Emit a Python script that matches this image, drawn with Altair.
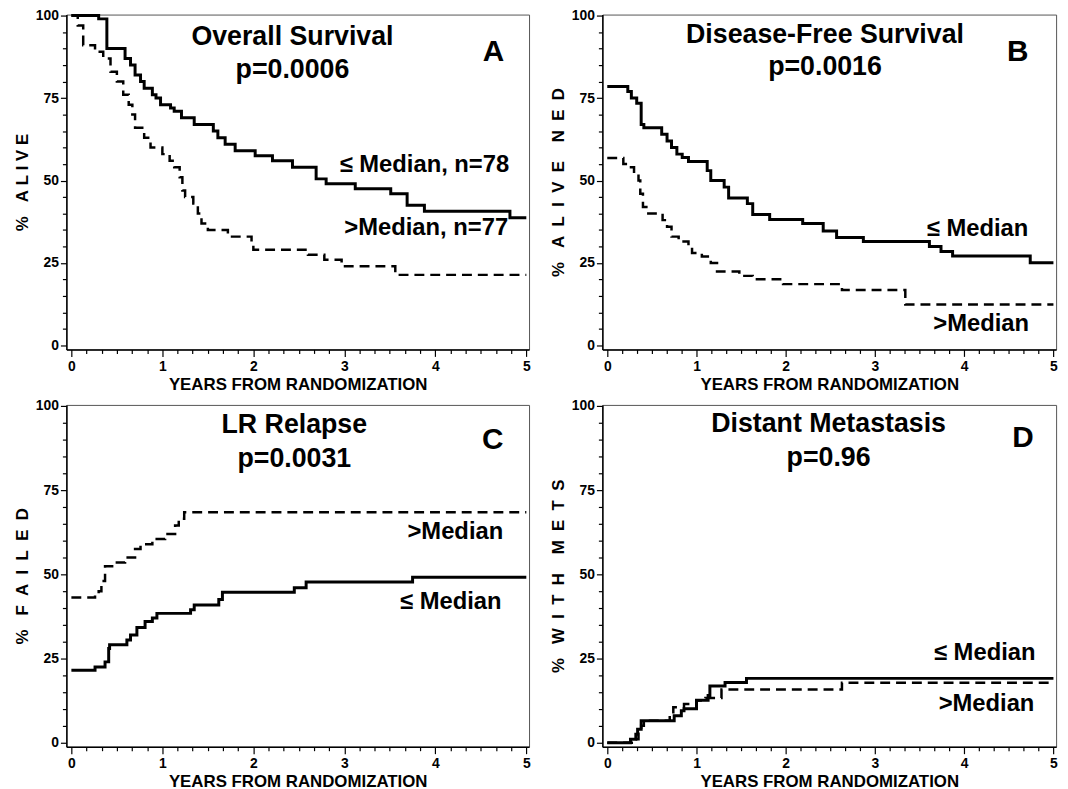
import altair as alt
import pandas as pd

FONT = "Liberation Sans"
NB = "\u00a0"

# ---------------- Panel A: Overall Survival ----------------
A_LE_T = [0, 0.30, 0.39, 0.59, 0.65, 0.70, 0.76, 0.80, 0.89, 0.93, 0.98, 1.09, 1.13, 1.21, 1.35,
          1.56, 1.61, 1.69, 1.80, 2.02, 2.21, 2.43, 2.69, 2.80, 3.12, 3.51, 3.69, 3.88, 4.82, 5.0]
A_LE_S = [100, 99, 90, 87, 85, 82, 80, 78, 76, 75, 73, 72, 71, 69, 67,
          65, 63, 61, 59, 57.5, 56, 54, 50.5, 49, 47.5, 46, 42.5, 40.7, 38.7, 38.7]
A_GT_T = [0, 0.07, 0.13, 0.26, 0.35, 0.43, 0.50, 0.57, 0.63, 0.67, 0.70, 0.80, 0.87, 1.00, 1.08,
          1.13, 1.19, 1.22, 1.25, 1.34, 1.39, 1.43, 1.50, 1.72, 1.98, 2.00, 2.60, 2.78, 2.97, 3.56, 5.0]
A_GT_S = [100, 97, 91, 89, 87, 83, 80, 76, 73, 70, 66, 63, 60, 58, 56,
          54, 51, 47, 45, 43, 40, 37, 35, 33, 31, 29, 27.5, 26, 24, 21.4, 21.4]

# ---------------- Panel B: Disease-Free Survival ----------------
B_LE_T = [0, 0.23, 0.27, 0.33, 0.38, 0.41, 0.61, 0.67, 0.72, 0.78, 0.84, 0.91, 1.12, 1.16, 1.31,
          1.36, 1.57, 1.63, 1.82, 2.19, 2.42, 2.57, 2.87, 3.61, 3.74, 3.87, 4.74, 5.0]
B_LE_S = [78.5, 77, 75, 73.4, 67, 66, 64, 62, 60, 58, 57, 55.8, 53, 50, 48,
          44.7, 43, 39.7, 38.2, 37, 34.7, 32.7, 31.5, 30, 28.5, 27.1, 25.1, 25.1]
B_GT_T = [0, 0.18, 0.25, 0.30, 0.35, 0.37, 0.40, 0.46, 0.62, 0.67, 0.72, 0.80, 0.91, 0.95, 1.06,
          1.16, 1.23, 1.48, 1.63, 1.97, 2.63, 3.34, 5.0]
B_GT_S = [56.8, 55, 54, 52, 50, 46, 42, 40, 38, 36, 33, 31.5, 30, 28, 27,
          25, 22.4, 21.1, 20.1, 18.6, 16.8, 12.4, 12.4]

# ---------------- Panel C: LR Relapse ----------------
C_LE_T = [0, 0.26, 0.37, 0.41, 0.42, 0.61, 0.65, 0.72, 0.81, 0.89, 0.94, 1.31, 1.35, 1.62, 1.66,
          2.45, 2.58, 3.75, 5.0]
C_LE_S = [21.5, 22.5, 24, 28, 29.1, 30.5, 32, 34.2, 36, 37, 38.4, 39.5, 40.9, 42.5, 44.7,
          46, 47.7, 49.1, 49.1]
C_GT_T = [0, 0.26, 0.30, 0.33, 0.37, 0.48, 0.59, 0.70, 0.76, 0.89, 1.03, 1.14, 1.18, 1.24, 5.0]
C_GT_S = [43.1, 44, 45, 48, 52.4, 53.5, 55, 57.5, 58.9, 60.5, 62, 64.5, 66.5, 68.4, 68.4]

# ---------------- Panel D: Distant Metastasis ----------------
D_LE_T = [0, 0.26, 0.32, 0.34, 0.38, 0.75, 0.83, 0.86, 1.00, 1.13, 1.15, 1.32, 1.56, 5.0]
D_LE_S = [0, 1, 2.5, 4, 6.5, 8, 9.5, 10.1, 12.6, 14, 16.8, 17.9, 19.1, 19.1]
D_GT_T = [0, 0.30, 0.35, 0.38, 0.41, 0.70, 0.74, 0.86, 1.00, 1.10, 1.28, 2.63, 5.0]
D_GT_S = [0, 1, 3, 5, 6.5, 9, 10.5, 11.5, 12.5, 13.3, 15.8, 17.8, 17.8]

# ---------------- Text annotations ----------------
A_TEXT = ["Overall Survival", "p=0.0006", "A", "\u2264 Median, n=78", ">Median, n=77"]
A_TX = [2.43, 2.43, 4.64, 3.88, 3.90]
A_TY = [93.5, 83.4, 89.0, 54.8, 35.7]

B_TEXT = ["Disease-Free Survival", "p=0.0016", "B", "\u2264 Median", ">Median"]
B_TX = [2.44, 2.44, 4.60, 4.15, 4.19]
B_TY = [94.0, 84.4, 89.0, 35.2, 6.5]

C_TEXT = ["LR Relapse", "p=0.0031", "C", ">Median", "\u2264 Median"]
C_TX = [2.45, 2.45, 4.63, 4.22, 4.17]
C_TY = [94.3, 84.3, 89.8, 62.4, 41.9]

D_TEXT = ["Distant Metastasis", "p=0.96", "D", "\u2264 Median", ">Median"]
D_TX = [2.48, 2.48, 4.66, 4.23, 4.25]
D_TY = [94.5, 84.4, 90.5, 26.6, 11.6]

TEXT_SIZES = [27, 27, 30, 24, 24]

Y_TITLES = ["%   A L I V E", "%   A  L  I  V  E    N  E  D",
            "%   F  A  I  L  E  D", "%   W  I  T  H    M  E  T  S"]
X_TITLE = "YEARS FROM RANDOMIZATION"

X_TICKS = [round(i / 6, 4) for i in range(31)]
Y_TICKS = list(range(0, 101, 5))


def make_panel(le_t, le_s, gt_t, gt_s, texts, tx, ty, ytitle, width, height):
    le = pd.DataFrame({"t": le_t, "s": le_s})
    gt = pd.DataFrame({"t": gt_t, "s": gt_s})
    td = pd.DataFrame({"t": tx, "s": ty, "label": texts, "fs": TEXT_SIZES})

    x_is_int = "abs(datum.value - round(datum.value)) < 0.01"
    x_axis = alt.Axis(
        values=X_TICKS,
        labelExpr=f"{x_is_int} ? '' + round(datum.value) : ''",
        tickSize={"condition": {"test": x_is_int, "value": 7}, "value": 4},
        labelOverlap=False, labelFlush=False, labelPadding=3, titlePadding=3,
        grid=False,
    )
    y_is_major = "datum.value % 25 === 0"
    y_axis = alt.Axis(
        values=Y_TICKS,
        labelExpr=f"{y_is_major} ? datum.label : ''",
        tickSize={"condition": {"test": y_is_major, "value": 6}, "value": 4},
        labelOverlap=False, labelFlush=False, labelPadding=2, titlePadding=4,
        grid=False,
    )
    x = alt.X("t:Q", scale=alt.Scale(domain=[-0.055, 5.03], nice=False, zero=False),
              axis=x_axis, title=X_TITLE)
    y = alt.Y("s:Q", scale=alt.Scale(domain=[-1.2, 100.3], nice=False, zero=False),
              axis=y_axis, title=ytitle.replace(" ", NB))

    solid = alt.Chart(le).mark_line(interpolate="step-after", color="black",
                                    strokeWidth=3).encode(x=x, y=y)
    dashed = alt.Chart(gt).mark_line(interpolate="step-after", color="black",
                                     strokeWidth=2.5, strokeDash=[10, 6]).encode(x=x, y=y)
    txt = alt.Chart(td).mark_text(font=FONT, fontWeight="bold", color="black",
                                  baseline="middle", align="center").encode(
        x=x, y=y, text="label:N", size=alt.Size("fs:Q", scale=None))
    return alt.layer(solid, dashed, txt).properties(width=width, height=height)


pA = make_panel(A_LE_T, A_LE_S, A_GT_T, A_GT_S, A_TEXT, A_TX, A_TY, Y_TITLES[0], 467, 338)
pB = make_panel(B_LE_T, B_LE_S, B_GT_T, B_GT_S, B_TEXT, B_TX, B_TY, Y_TITLES[1], 458, 338)
pC = make_panel(C_LE_T, C_LE_S, C_GT_T, C_GT_S, C_TEXT, C_TX, C_TY, Y_TITLES[2], 467, 345)
pD = make_panel(D_LE_T, D_LE_S, D_GT_T, D_GT_S, D_TEXT, D_TX, D_TY, Y_TITLES[3], 458, 345)

chart = alt.vconcat(
    alt.hconcat(pA, pB, spacing=16),
    alt.hconcat(pC, pD, spacing=16),
    spacing=5,
).properties(
    padding={"left": 13, "top": 4, "right": 8, "bottom": 0},
    background="white",
).configure_axis(
    domainColor="black", domainWidth=1.5, tickColor="black", tickWidth=1.2,
    labelFont=FONT, labelFontWeight="bold", labelFontSize=14, labelColor="black",
    titleFont=FONT, titleFontWeight="bold", titleFontSize=17, titleColor="black",
).configure_view(stroke="#555", strokeWidth=1)

chart.save("out.html", embed_options={"renderer": "svg", "actions": False})
